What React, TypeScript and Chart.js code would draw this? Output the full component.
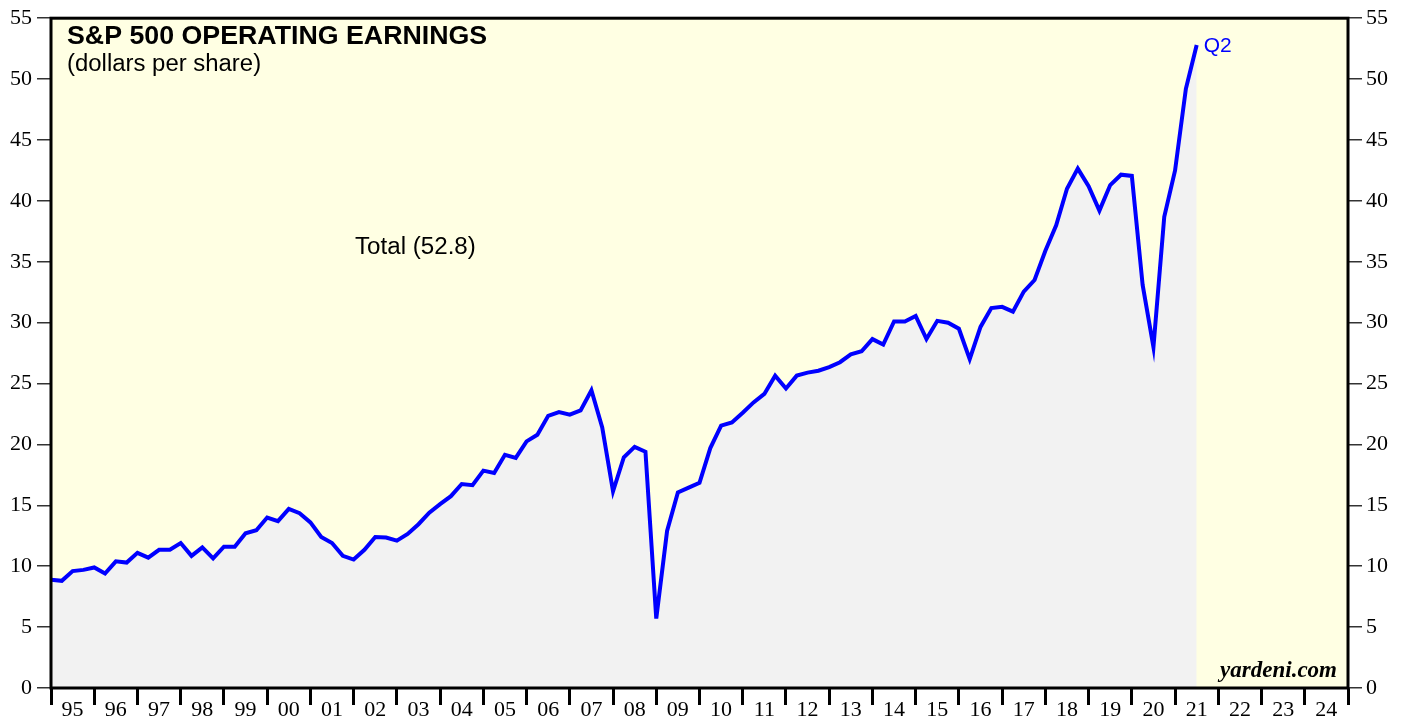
import React, { useEffect, useRef } from "react";
import { Chart, registerables } from "chart.js";

Chart.register(...registerables);

// First data point is 1994 Q4 (plotted at the end of its quarter)
const firstYear = 1994;
const firstQuarter = 4;

// S&P 500 operating earnings, dollars per share (quarterly)
const earnings: number[] = [
  8.9,
  8.8, 9.6, 9.7, 9.9, // 1995
  9.4, 10.4, 10.3, 11.1, // 1996
  10.7, 11.35, 11.35, 11.9, // 1997
  10.85, 11.55, 10.65, 11.6, // 1998
  11.6, 12.7, 12.95, 14.0, // 1999
  13.7, 14.7, 14.35, 13.6, // 2000
  12.4, 11.9, 10.85, 10.55, // 2001
  11.35, 12.4, 12.35, 12.1, // 2002
  12.65, 13.45, 14.4, 15.1, // 2003
  15.75, 16.75, 16.65, 17.85, // 2004
  17.65, 19.15, 18.9, 20.25, // 2005
  20.8, 22.35, 22.65, 22.45, // 2006
  22.8, 24.45, 21.4, 16.15, // 2007
  18.95, 19.8, 19.4, 5.7, // 2008
  12.9, 16.05, 16.45, 16.85, // 2009
  19.7, 21.55, 21.8, 22.6, // 2010
  23.45, 24.15, 25.65, 24.6, // 2011
  25.65, 25.9, 26.05, 26.35, // 2012
  26.75, 27.4, 27.65, 28.65, // 2013
  28.2, 30.1, 30.1, 30.55, // 2014
  28.65, 30.15, 30.0, 29.5, // 2015
  27.0, 29.65, 31.2, 31.3, // 2016
  30.9, 32.55, 33.5, 35.9, // 2017
  38.0, 41.0, 42.65, 41.2, // 2018
  39.2, 41.3, 42.15, 42.05, // 2019
  33.1, 28.0, 38.7, 42.5, // 2020
  49.2, 52.8, // 2021
];

const yearTicksMin = 1995;
const yearTicksMax = 2025;
const yMin = 0;
const yMax = 55;
const yStep = 5;

const titleText = "S&P 500 OPERATING EARNINGS";
const subtitleText = "(dollars per share)";
const seriesName = "Total";
const lastQuarterLabel = "Q2";
const sourceText = "yardeni.com";

const SANS = "'Liberation Sans', Arial, sans-serif";
const SERIF = "'Liberation Serif', 'Times New Roman', serif";

function stretchedText(
  ctx: CanvasRenderingContext2D,
  text: string,
  x: number,
  y: number,
  sx: number
) {
  ctx.save();
  ctx.translate(x, y);
  ctx.scale(sx, 1);
  ctx.fillText(text, 0, 0);
  ctx.restore();
}

export default function App() {
  const canvasRef = useRef<HTMLCanvasElement | null>(null);

  useEffect(() => {
    const canvas = canvasRef.current;
    if (!canvas) return;

    const points = earnings.map((v, i) => ({
      x: firstYear + (firstQuarter + i) / 4,
      y: v,
    }));
    const lastVal = earnings[earnings.length - 1];

    const bgPlugin = {
      id: "bgPlugin",
      beforeDraw(chart: any) {
        const { ctx, chartArea } = chart;
        const { left, top, right, bottom } = chartArea;
        ctx.save();
        ctx.fillStyle = "#ffffe3";
        ctx.fillRect(left, top, right - left, bottom - top);
        ctx.restore();
      },
      afterDatasetsDraw(chart: any) {
        const { ctx, chartArea } = chart;
        const { left, top, right, bottom } = chartArea;
        ctx.save();
        ctx.strokeStyle = "#000";
        ctx.lineWidth = 3;
        ctx.strokeRect(left, top, right - left, bottom - top);
        ctx.restore();
      },
      afterDraw(chart: any) {
        const { ctx, chartArea } = chart;
        const xs = chart.scales.x;
        const ys = chart.scales.y;
        const last = points[points.length - 1];
        ctx.save();
        ctx.fillStyle = "#000";
        ctx.textAlign = "left";
        ctx.textBaseline = "alphabetic";
        ctx.font = `bold 25px ${SANS}`;
        stretchedText(ctx, titleText, chartArea.left + 16, 44, 1.07);
        ctx.font = `23px ${SANS}`;
        stretchedText(ctx, subtitleText, chartArea.left + 16, 71, 1.04);
        ctx.font = `23px ${SANS}`;
        stretchedText(ctx, `${seriesName} (${lastVal.toFixed(1)})`, 355, 254, 1.05);
        ctx.fillStyle = "#0000ff";
        ctx.font = `21px ${SANS}`;
        ctx.fillText(
          lastQuarterLabel,
          xs.getPixelForValue(last.x) + 7,
          ys.getPixelForValue(last.y) + 7
        );
        ctx.fillStyle = "#000";
        ctx.textAlign = "right";
        ctx.font = `italic bold 23px ${SERIF}`;
        ctx.fillText(sourceText, chartArea.right - 11, chartArea.bottom - 11);
        ctx.restore();
      },
    };

    const chart = new Chart(canvas, {
      type: "line",
      data: {
        datasets: [
          {
            label: seriesName,
            data: points,
            borderColor: "#0000ff",
            borderWidth: 4,
            backgroundColor: "#f2f2f2",
            fill: "origin",
            pointRadius: 0,
            tension: 0,
          },
        ],
      },
      options: {
        animation: false,
        responsive: false,
        devicePixelRatio: 1,
        parsing: false as any,
        layout: { padding: { top: 15, left: 0, right: 0, bottom: 0 } },
        plugins: {
          legend: { display: false },
          tooltip: { enabled: false },
          title: { display: false },
        },
        scales: {
          x: {
            type: "linear",
            position: "bottom",
            min: yearTicksMin,
            max: yearTicksMax,
            border: { display: false },
            grid: {
              drawOnChartArea: false,
              drawTicks: true,
              tickLength: 17,
              color: "#000",
              lineWidth: 3,
            },
            ticks: {
              stepSize: 1,
              autoSkip: false,
              maxRotation: 0,
              minRotation: 0,
              padding: -8,
              color: "#000",
              font: { family: SERIF, size: 22 },
              labelOffset: 21.6,
              callback: (v: any) => {
                const n = Number(v);
                if (n >= yearTicksMax) return "";
                return String(n % 100).padStart(2, "0");
              },
            },
            afterFit: (scale: any) => {
              scale.height = 31;
            },
          },
          y: {
            type: "linear",
            position: "left",
            min: yMin,
            max: yMax,
            border: { display: false },
            grid: {
              drawOnChartArea: false,
              drawTicks: true,
              tickLength: 14,
              color: "#333",
              lineWidth: 1.5,
            },
            ticks: {
              stepSize: yStep,
              padding: 5,
              color: "#000",
              font: { family: SERIF, size: 22 },
              callback: (v: any) => String(v),
            },
            afterFit: (scale: any) => {
              scale.width = 51;
            },
          },
          y2: {
            type: "linear",
            position: "right",
            min: yMin,
            max: yMax,
            border: { display: false },
            grid: {
              drawOnChartArea: false,
              drawTicks: true,
              tickLength: 14,
              color: "#333",
              lineWidth: 1.5,
            },
            ticks: {
              stepSize: yStep,
              padding: 4,
              color: "#000",
              font: { family: SERIF, size: 22 },
              callback: (v: any) => String(v),
            },
            afterFit: (scale: any) => {
              scale.width = 59;
            },
          },
        },
      },
      plugins: [bgPlugin],
    });

    return () => {
      chart.destroy();
    };
  }, []);

  return (
    <div
      style={{
        position: "absolute",
        left: 0,
        top: 0,
        width: 1407,
        height: 719,
        background: "#fff",
        overflow: "hidden",
      }}
    >
      <canvas ref={canvasRef} width={1407} height={719} style={{ display: "block" }} />
    </div>
  );
}
